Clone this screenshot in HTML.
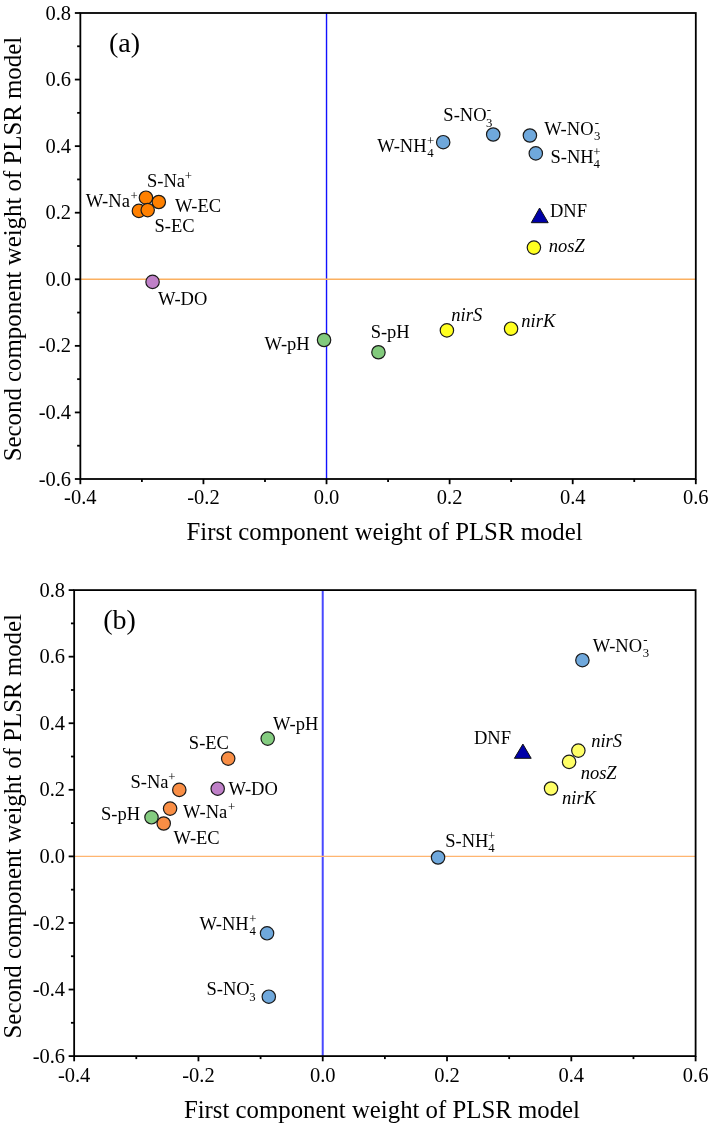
<!DOCTYPE html>
<html><head><meta charset="utf-8"><style>
html,body{margin:0;padding:0;background:#fff;}
svg{display:block;will-change:transform;}
text{font-family:"Liberation Serif", serif;fill:#000;}
</style></head><body>
<svg width="710" height="1125" viewBox="0 0 710 1125">
<rect width="710" height="1125" fill="#fff"/>
<line x1="326.53" y1="13.0" x2="326.53" y2="479.0" stroke="#1010FF" stroke-width="1.4"/>
<line x1="80.35" y1="279.29" x2="695.8" y2="279.29" stroke="#FBB060" stroke-width="1.4"/>
<rect x="80.35" y="13.0" width="615.4499999999999" height="466.0" fill="none" stroke="#000" stroke-width="1.8"/>
<line x1="74.85" y1="13.00" x2="80.35" y2="13.00" stroke="#000" stroke-width="1.8"/>
<text x="71.1" y="19.60" text-anchor="end" font-size="20.5">0.8</text>
<line x1="77.14999999999999" y1="46.29" x2="80.35" y2="46.29" stroke="#000" stroke-width="1.8"/>
<line x1="74.85" y1="79.57" x2="80.35" y2="79.57" stroke="#000" stroke-width="1.8"/>
<text x="71.1" y="86.17" text-anchor="end" font-size="20.5">0.6</text>
<line x1="77.14999999999999" y1="112.86" x2="80.35" y2="112.86" stroke="#000" stroke-width="1.8"/>
<line x1="74.85" y1="146.14" x2="80.35" y2="146.14" stroke="#000" stroke-width="1.8"/>
<text x="71.1" y="152.74" text-anchor="end" font-size="20.5">0.4</text>
<line x1="77.14999999999999" y1="179.43" x2="80.35" y2="179.43" stroke="#000" stroke-width="1.8"/>
<line x1="74.85" y1="212.71" x2="80.35" y2="212.71" stroke="#000" stroke-width="1.8"/>
<text x="71.1" y="219.31" text-anchor="end" font-size="20.5">0.2</text>
<line x1="77.14999999999999" y1="246.00" x2="80.35" y2="246.00" stroke="#000" stroke-width="1.8"/>
<line x1="74.85" y1="279.29" x2="80.35" y2="279.29" stroke="#000" stroke-width="1.8"/>
<text x="71.1" y="285.89" text-anchor="end" font-size="20.5">0.0</text>
<line x1="77.14999999999999" y1="312.57" x2="80.35" y2="312.57" stroke="#000" stroke-width="1.8"/>
<line x1="74.85" y1="345.86" x2="80.35" y2="345.86" stroke="#000" stroke-width="1.8"/>
<text x="71.1" y="352.46" text-anchor="end" font-size="20.5">-0.2</text>
<line x1="77.14999999999999" y1="379.14" x2="80.35" y2="379.14" stroke="#000" stroke-width="1.8"/>
<line x1="74.85" y1="412.43" x2="80.35" y2="412.43" stroke="#000" stroke-width="1.8"/>
<text x="71.1" y="419.03" text-anchor="end" font-size="20.5">-0.4</text>
<line x1="77.14999999999999" y1="445.71" x2="80.35" y2="445.71" stroke="#000" stroke-width="1.8"/>
<line x1="74.85" y1="479.00" x2="80.35" y2="479.00" stroke="#000" stroke-width="1.8"/>
<text x="71.1" y="485.60" text-anchor="end" font-size="20.5">-0.6</text>
<line x1="80.35" y1="479.0" x2="80.35" y2="484.2" stroke="#000" stroke-width="1.8"/>
<text x="80.35" y="504.2" text-anchor="middle" font-size="20.5">-0.4</text>
<line x1="141.89" y1="479.0" x2="141.89" y2="482.0" stroke="#000" stroke-width="1.8"/>
<line x1="203.44" y1="479.0" x2="203.44" y2="484.2" stroke="#000" stroke-width="1.8"/>
<text x="203.44" y="504.2" text-anchor="middle" font-size="20.5">-0.2</text>
<line x1="264.99" y1="479.0" x2="264.99" y2="482.0" stroke="#000" stroke-width="1.8"/>
<line x1="326.53" y1="479.0" x2="326.53" y2="484.2" stroke="#000" stroke-width="1.8"/>
<text x="326.53" y="504.2" text-anchor="middle" font-size="20.5">0.0</text>
<line x1="388.07" y1="479.0" x2="388.07" y2="482.0" stroke="#000" stroke-width="1.8"/>
<line x1="449.62" y1="479.0" x2="449.62" y2="484.2" stroke="#000" stroke-width="1.8"/>
<text x="449.62" y="504.2" text-anchor="middle" font-size="20.5">0.2</text>
<line x1="511.16" y1="479.0" x2="511.16" y2="482.0" stroke="#000" stroke-width="1.8"/>
<line x1="572.71" y1="479.0" x2="572.71" y2="484.2" stroke="#000" stroke-width="1.8"/>
<text x="572.71" y="504.2" text-anchor="middle" font-size="20.5">0.4</text>
<line x1="634.25" y1="479.0" x2="634.25" y2="482.0" stroke="#000" stroke-width="1.8"/>
<line x1="695.80" y1="479.0" x2="695.80" y2="484.2" stroke="#000" stroke-width="1.8"/>
<text x="695.80" y="504.2" text-anchor="middle" font-size="20.5">0.6</text>
<circle cx="138.9" cy="210.9" r="6.7" fill="#FF8000" stroke="#1a1a1a" stroke-width="1.2"/>
<circle cx="145.95" cy="197.7" r="6.7" fill="#FF8000" stroke="#1a1a1a" stroke-width="1.2"/>
<circle cx="158.8" cy="202.0" r="6.7" fill="#FF8000" stroke="#1a1a1a" stroke-width="1.2"/>
<circle cx="147.7" cy="210.1" r="6.7" fill="#FF8000" stroke="#1a1a1a" stroke-width="1.2"/>
<circle cx="152.56" cy="281.9" r="6.7" fill="#BF80C8" stroke="#1a1a1a" stroke-width="1.2"/>
<circle cx="324.06" cy="340.0" r="6.7" fill="#82CA7C" stroke="#1a1a1a" stroke-width="1.2"/>
<circle cx="378.45" cy="352.25" r="6.7" fill="#82CA7C" stroke="#1a1a1a" stroke-width="1.2"/>
<circle cx="446.9" cy="330.4" r="6.7" fill="#FFFF20" stroke="#1a1a1a" stroke-width="1.2"/>
<circle cx="511.06" cy="328.7" r="6.7" fill="#FFFF20" stroke="#1a1a1a" stroke-width="1.2"/>
<circle cx="533.9" cy="247.6" r="6.7" fill="#FFFF20" stroke="#1a1a1a" stroke-width="1.2"/>
<path d="M539.6 208.0 L548.2 222.7 L531.3 222.7 Z" fill="#0000A8" stroke="#111" stroke-width="1" stroke-linejoin="miter"/>
<circle cx="443.2" cy="142.2" r="6.7" fill="#6FA8DC" stroke="#1a1a1a" stroke-width="1.2"/>
<circle cx="493.2" cy="134.5" r="6.7" fill="#6FA8DC" stroke="#1a1a1a" stroke-width="1.2"/>
<circle cx="529.9" cy="135.5" r="6.7" fill="#6FA8DC" stroke="#1a1a1a" stroke-width="1.2"/>
<circle cx="535.8" cy="153.4" r="6.7" fill="#6FA8DC" stroke="#1a1a1a" stroke-width="1.2"/>
<text x="108.97" y="51.6" font-size="28">(a)</text>
<text x="146.96" y="186.5" font-size="18.5">S-Na</text>
<text x="184.73" y="179.50" font-size="12.8">+</text>
<text x="85.68" y="206.8" font-size="18.5">W-Na</text>
<text x="130.62" y="199.80" font-size="12.8">+</text>
<text x="174.88" y="211.9" font-size="18.5">W-EC</text>
<text x="154.56" y="232.2" font-size="18.5">S-EC</text>
<text x="157.98" y="305.0" font-size="18.5">W-DO</text>
<text x="264.48" y="349.5" font-size="18.5">W-pH</text>
<text x="370.66" y="337.6" font-size="18.5">S-pH</text>
<text x="451.34" y="320.8" font-size="18.5" font-style="italic">nirS</text>
<text x="521.34" y="326.8" font-size="18.5" font-style="italic">nirK</text>
<text x="548.74" y="252.0" font-size="18.5" font-style="italic">nosZ</text>
<text x="549.97" y="216.7" font-size="18.5">DNF</text>
<text x="377.23" y="151.7" font-size="18.5">W-NH</text>
<text x="427.03" y="144.70" font-size="12.8">+</text>
<text x="427.33" y="156.50" font-size="12.8">4</text>
<text x="443.36" y="121.4" font-size="18.5">S-NO</text>
<text x="486.67" y="113.80" font-size="12.8">-</text>
<text x="486.07" y="127.00" font-size="12.8">3</text>
<text x="544.18" y="134.7" font-size="18.5">W-NO</text>
<text x="594.67" y="127.10" font-size="12.8">-</text>
<text x="594.07" y="140.30" font-size="12.8">3</text>
<text x="550.56" y="163.2" font-size="18.5">S-NH</text>
<text x="593.19" y="156.20" font-size="12.8">+</text>
<text x="593.49" y="168.00" font-size="12.8">4</text>
<text x="186.59" y="539.9" font-size="24.8">First component weight of PLSR model</text>
<text transform="translate(21 461.26) rotate(-90)" font-size="24.85">Second component weight of PLSR model</text>
<line x1="322.73" y1="590.1" x2="322.73" y2="1056.1" stroke="#4848FF" stroke-width="2"/>
<line x1="74.15" y1="856.39" x2="695.6" y2="856.39" stroke="#FFB570" stroke-width="1.4"/>
<rect x="74.15" y="590.1" width="621.45" height="465.9999999999999" fill="none" stroke="#000" stroke-width="1.8"/>
<line x1="68.65" y1="590.10" x2="74.15" y2="590.10" stroke="#000" stroke-width="1.8"/>
<text x="65.1" y="596.70" text-anchor="end" font-size="20.5">0.8</text>
<line x1="70.95" y1="623.39" x2="74.15" y2="623.39" stroke="#000" stroke-width="1.8"/>
<line x1="68.65" y1="656.67" x2="74.15" y2="656.67" stroke="#000" stroke-width="1.8"/>
<text x="65.1" y="663.27" text-anchor="end" font-size="20.5">0.6</text>
<line x1="70.95" y1="689.96" x2="74.15" y2="689.96" stroke="#000" stroke-width="1.8"/>
<line x1="68.65" y1="723.24" x2="74.15" y2="723.24" stroke="#000" stroke-width="1.8"/>
<text x="65.1" y="729.84" text-anchor="end" font-size="20.5">0.4</text>
<line x1="70.95" y1="756.53" x2="74.15" y2="756.53" stroke="#000" stroke-width="1.8"/>
<line x1="68.65" y1="789.81" x2="74.15" y2="789.81" stroke="#000" stroke-width="1.8"/>
<text x="65.1" y="796.41" text-anchor="end" font-size="20.5">0.2</text>
<line x1="70.95" y1="823.10" x2="74.15" y2="823.10" stroke="#000" stroke-width="1.8"/>
<line x1="68.65" y1="856.39" x2="74.15" y2="856.39" stroke="#000" stroke-width="1.8"/>
<text x="65.1" y="862.99" text-anchor="end" font-size="20.5">0.0</text>
<line x1="70.95" y1="889.67" x2="74.15" y2="889.67" stroke="#000" stroke-width="1.8"/>
<line x1="68.65" y1="922.96" x2="74.15" y2="922.96" stroke="#000" stroke-width="1.8"/>
<text x="65.1" y="929.56" text-anchor="end" font-size="20.5">-0.2</text>
<line x1="70.95" y1="956.24" x2="74.15" y2="956.24" stroke="#000" stroke-width="1.8"/>
<line x1="68.65" y1="989.53" x2="74.15" y2="989.53" stroke="#000" stroke-width="1.8"/>
<text x="65.1" y="996.13" text-anchor="end" font-size="20.5">-0.4</text>
<line x1="70.95" y1="1022.81" x2="74.15" y2="1022.81" stroke="#000" stroke-width="1.8"/>
<line x1="68.65" y1="1056.10" x2="74.15" y2="1056.10" stroke="#000" stroke-width="1.8"/>
<text x="65.1" y="1062.70" text-anchor="end" font-size="20.5">-0.6</text>
<line x1="74.15" y1="1056.1" x2="74.15" y2="1061.3" stroke="#000" stroke-width="1.8"/>
<text x="74.15" y="1081.7" text-anchor="middle" font-size="20.5">-0.4</text>
<line x1="136.29" y1="1056.1" x2="136.29" y2="1059.1" stroke="#000" stroke-width="1.8"/>
<line x1="198.44" y1="1056.1" x2="198.44" y2="1061.3" stroke="#000" stroke-width="1.8"/>
<text x="198.44" y="1081.7" text-anchor="middle" font-size="20.5">-0.2</text>
<line x1="260.59" y1="1056.1" x2="260.59" y2="1059.1" stroke="#000" stroke-width="1.8"/>
<line x1="322.73" y1="1056.1" x2="322.73" y2="1061.3" stroke="#000" stroke-width="1.8"/>
<text x="322.73" y="1081.7" text-anchor="middle" font-size="20.5">0.0</text>
<line x1="384.88" y1="1056.1" x2="384.88" y2="1059.1" stroke="#000" stroke-width="1.8"/>
<line x1="447.02" y1="1056.1" x2="447.02" y2="1061.3" stroke="#000" stroke-width="1.8"/>
<text x="447.02" y="1081.7" text-anchor="middle" font-size="20.5">0.2</text>
<line x1="509.17" y1="1056.1" x2="509.17" y2="1059.1" stroke="#000" stroke-width="1.8"/>
<line x1="571.31" y1="1056.1" x2="571.31" y2="1061.3" stroke="#000" stroke-width="1.8"/>
<text x="571.31" y="1081.7" text-anchor="middle" font-size="20.5">0.4</text>
<line x1="633.46" y1="1056.1" x2="633.46" y2="1059.1" stroke="#000" stroke-width="1.8"/>
<line x1="695.60" y1="1056.1" x2="695.60" y2="1061.3" stroke="#000" stroke-width="1.8"/>
<text x="695.60" y="1081.7" text-anchor="middle" font-size="20.5">0.6</text>
<circle cx="151.5" cy="817.3" r="6.7" fill="#84CC80" stroke="#1a1a1a" stroke-width="1.2"/>
<circle cx="163.7" cy="823.5" r="6.7" fill="#F98E45" stroke="#1a1a1a" stroke-width="1.2"/>
<circle cx="170.1" cy="808.6" r="6.7" fill="#F98E45" stroke="#1a1a1a" stroke-width="1.2"/>
<circle cx="179.3" cy="789.9" r="6.7" fill="#F98E45" stroke="#1a1a1a" stroke-width="1.2"/>
<circle cx="228.2" cy="758.6" r="6.7" fill="#F98E45" stroke="#1a1a1a" stroke-width="1.2"/>
<circle cx="217.7" cy="788.7" r="6.7" fill="#BF80C8" stroke="#1a1a1a" stroke-width="1.2"/>
<circle cx="267.7" cy="738.6" r="6.7" fill="#84CC80" stroke="#1a1a1a" stroke-width="1.2"/>
<circle cx="267.05" cy="933.3" r="6.7" fill="#6FA8DC" stroke="#1a1a1a" stroke-width="1.2"/>
<circle cx="268.8" cy="996.7" r="6.7" fill="#6FA8DC" stroke="#1a1a1a" stroke-width="1.2"/>
<circle cx="438.05" cy="857.5" r="6.7" fill="#6FA8DC" stroke="#1a1a1a" stroke-width="1.2"/>
<path d="M522.9 744.1 L531.2 758.3 L514.4 758.3 Z" fill="#0000A8" stroke="#111" stroke-width="1" stroke-linejoin="miter"/>
<circle cx="569.1" cy="761.9" r="6.7" fill="#FFFF66" stroke="#1a1a1a" stroke-width="1.2"/>
<circle cx="578.35" cy="750.6" r="6.7" fill="#FFFF66" stroke="#1a1a1a" stroke-width="1.2"/>
<circle cx="551.04" cy="788.5" r="6.7" fill="#FFFF66" stroke="#1a1a1a" stroke-width="1.2"/>
<circle cx="582.4" cy="660.2" r="6.7" fill="#6FA8DC" stroke="#1a1a1a" stroke-width="1.2"/>
<text x="103.17" y="628.7" font-size="28">(b)</text>
<text x="101.06" y="820.3" font-size="18.5">S-pH</text>
<text x="130.56" y="787.6" font-size="18.5">S-Na</text>
<text x="168.33" y="780.60" font-size="12.8">+</text>
<text x="183.08" y="817.5" font-size="18.5">W-Na</text>
<text x="228.02" y="810.50" font-size="12.8">+</text>
<text x="173.48" y="843.9" font-size="18.5">W-EC</text>
<text x="188.86" y="749.2" font-size="18.5">S-EC</text>
<text x="228.48" y="794.7" font-size="18.5">W-DO</text>
<text x="273.08" y="730.4" font-size="18.5">W-pH</text>
<text x="199.38" y="930.2" font-size="18.5">W-NH</text>
<text x="249.18" y="923.20" font-size="12.8">+</text>
<text x="249.48" y="935.00" font-size="12.8">4</text>
<text x="206.46" y="995.4" font-size="18.5">S-NO</text>
<text x="249.77" y="987.80" font-size="12.8">-</text>
<text x="249.17" y="1001.00" font-size="12.8">3</text>
<text x="445.26" y="846.9" font-size="18.5">S-NH</text>
<text x="487.89" y="839.90" font-size="12.8">+</text>
<text x="488.19" y="851.70" font-size="12.8">4</text>
<text x="473.97" y="744.1" font-size="18.5">DNF</text>
<text x="591.14" y="746.6" font-size="18.5" font-style="italic">nirS</text>
<text x="580.64" y="778.8" font-size="18.5" font-style="italic">nosZ</text>
<text x="562.04" y="803.5" font-size="18.5" font-style="italic">nirK</text>
<text x="592.78" y="651.8" font-size="18.5">W-NO</text>
<text x="643.27" y="644.20" font-size="12.8">-</text>
<text x="642.67" y="657.40" font-size="12.8">3</text>
<text x="183.89" y="1118.0" font-size="24.8">First component weight of PLSR model</text>
<text transform="translate(21 1038.46) rotate(-90)" font-size="24.85">Second component weight of PLSR model</text>
</svg>
</body></html>
